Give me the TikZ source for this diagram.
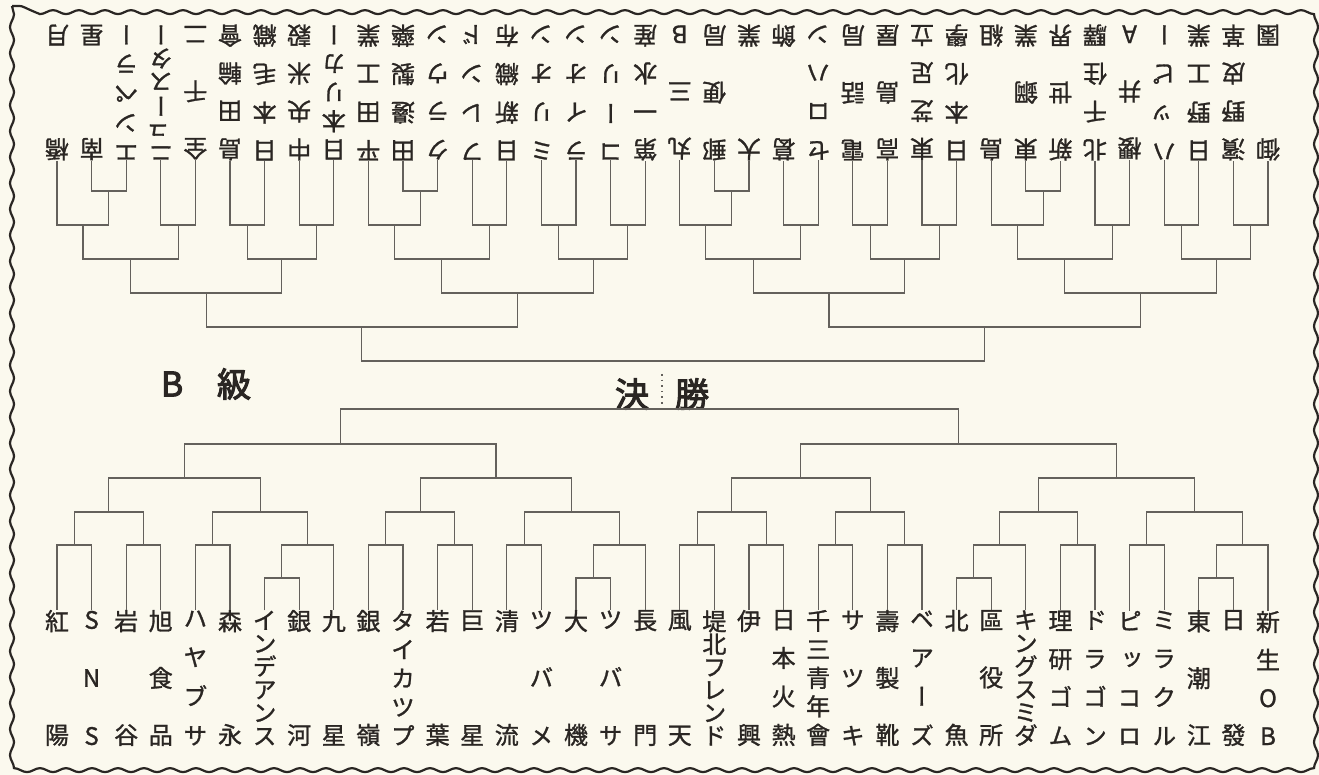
\documentclass[tikz,border=0pt]{standalone}
\usepackage{fontspec}
\usetikzlibrary{calc,decorations.pathmorphing}
\newfontfamily\jp{Noto Sans CJK JP}[RawFeature=+vert,FakeBold=1.2]
\newfontfamily\jpbold{Noto Sans CJK JP}[FakeBold=3]
\definecolor{PaperCream}{RGB}{251,249,238}
\definecolor{PrintInk}{RGB}{42,38,35}
\definecolor{RuleGray}{RGB}{100,97,92}
\newcommand\vs{\par\vfill}
\newcommand\teamcol[1]{\parbox[c][67pt][s]{16pt}{\centering\lineskiplimit=-100pt\baselineskip=6pt #1\par}}
% one match: name, two entrants, height of its bar
\newcommand\bout[4]{%
  \path let \p1=(#2), \p2=(#3), \p3=(0,#4) in coordinate (#1) at ({(\x1+\x2)/2},\y3);
  \draw[bracket] (#2) |- (#1) -| (#3);}
\tikzset{
  bracket/.style={draw=RuleGray,line width=0.55pt},
  teamname/.style={inner sep=0pt,text=PrintInk,font=\jp\fontsize{12}{6}\selectfont},
  topname/.style={teamname,rotate=180},
  classlabel/.style={inner sep=0pt,text=PrintInk,font=\jpbold\fontsize{17}{17}\selectfont},
  wavyframe/.style={draw=PrintInk,line width=1.1pt,decorate,
    decoration={snake,amplitude=1pt,segment length=13pt}}
}
\begin{document}
\begin{tikzpicture}[x=0.5pt,y=-0.5pt]
  \fill[PaperCream] (0,0) rectangle (1319,775);
  \useasboundingbox (0,0) rectangle (1319,775);
  \draw[wavyframe] (12,6) rectangle (1308,763);

  % upper bracket, printed upside down
  \foreach \nm [count=\i] in {{橋\vs 月},{南\vs 星},{エ\vs ン\vs ペ\vs ラ\vs ー},{ニ\vs ュ\vs ー\vs ス\vs タ\vs ー},
    {全\vs 千\vs 二},{島\vs 田\vs 輪\vs 會},{日\vs 本\vs 毛\vs 織},{中\vs 央\vs 米\vs 穀},{日\vs 本\vs リ\vs カ\vs ー},
    {平\vs 田\vs 工\vs 業},{田\vs 邊\vs 製\vs 藥},{ク\vs ラ\vs ウ\vs ン},{フ\vs レ\vs ン\vs ド},{日\vs 新\vs 織\vs 布},
    {ミ\vs リ\vs オ\vs ン},{ラ\vs イ\vs オ\vs ン},{コ\vs ー\vs リ\vs ン},{第\vs 一\vs 水\vs 産},{丸\vs 三\vs B},
    {郵\vs 便\vs 局},{大\vs 業},{葛\vs 飾},{セ\vs ロ\vs ハ\vs ン},{電\vs 話\vs 局},{高\vs 島\vs 屋},
    {東\vs 芝\vs 足\vs 立},{日\vs 本\vs 化\vs 學},{島\vs 組},{東\vs 鋼\vs 業},{新\vs 世\vs 界},{北\vs 千\vs 住\vs 驛},
    {櫻\vs 井\vs A},{ハ\vs ッ\vs ピ\vs ー},{日\vs 野\vs 工\vs 業},{濱\vs 野\vs 皮\vs 革},{御\vs 園}}{
    \node[topname] (tn\i) at ({57+34.6*(\i-1)},92.5) {\teamcol{\nm}};
    \coordinate (t\i) at (tn\i.north);
  }
  \bout{tp1}{t2}{t3}{191}
  \bout{tp2}{t11}{t12}{191}
  \bout{tp3}{t20}{t21}{191}
  \bout{tp4}{t29}{t30}{191}
  \bout{ta1}{t1}{tp1}{225}
  \bout{ta2}{t4}{t5}{225}
  \bout{ta3}{t6}{t7}{225}
  \bout{ta4}{t8}{t9}{225}
  \bout{ta5}{t10}{tp2}{225}
  \bout{ta6}{t13}{t14}{225}
  \bout{ta7}{t15}{t16}{225}
  \bout{ta8}{t17}{t18}{225}
  \bout{ta9}{t19}{tp3}{225}
  \bout{ta10}{t22}{t23}{225}
  \bout{ta11}{t24}{t25}{225}
  \bout{ta12}{t26}{t27}{225}
  \bout{ta13}{t28}{tp4}{225}
  \bout{ta14}{t31}{t32}{225}
  \bout{ta15}{t33}{t34}{225}
  \bout{ta16}{t35}{t36}{225}
  \foreach \k in {1,...,8}{
    \pgfmathtruncatemacro\l{2*\k-1}\pgfmathtruncatemacro\r{2*\k}
    \bout{tb\k}{ta\l}{ta\r}{259}
  }
  \foreach \k in {1,...,4}{
    \pgfmathtruncatemacro\l{2*\k-1}\pgfmathtruncatemacro\r{2*\k}
    \bout{tc\k}{tb\l}{tb\r}{293}
  }
  \bout{td1}{tc1}{tc2}{327}
  \bout{td2}{tc3}{tc4}{327}
  \bout{tf}{td1}{td2}{361}

  % headings
  \node[classlabel] (bmark) at (172,384) {B};
  \node[classlabel] (kyu) at (234,384) {級};
  \node[classlabel] (ketsu) at (632,394) {決};
  \node[classlabel] (sho) at (692,394) {勝};
  \draw[RuleGray,dotted,line width=0.8pt] (662,374) -- (662,405);

  % lower bracket
  \foreach \nm [count=\i] in {{紅\vs 陽},{S\vs N\vs S},{岩\vs 谷},{旭\vs 食\vs 品},{ハ\vs ヤ\vs ブ\vs サ},{森\vs 永},
    {イ\vs ン\vs デ\vs ア\vs ン\vs ス},{銀\vs 河},{九\vs 星},{銀\vs 嶺},{タ\vs イ\vs カ\vs ツ\vs プ},{若\vs 葉},
    {巨\vs 星},{清\vs 流},{ツ\vs バ\vs メ},{大\vs 機},{ツ\vs バ\vs サ},{長\vs 門},{風\vs 天},
    {堤\vs 北\vs フ\vs レ\vs ン\vs ド},{伊\vs 興},{日\vs 本\vs 火\vs 熱},{千\vs 三\vs 青\vs 年\vs 會},{サ\vs ツ\vs キ},
    {壽\vs 製\vs 靴},{ベ\vs ア\vs ー\vs ズ},{北\vs 魚},{區\vs 役\vs 所},{キ\vs ン\vs グ\vs ス\vs ミ\vs ダ},
    {理\vs 研\vs ゴ\vs ム},{ド\vs ラ\vs ゴ\vs ン},{ピ\vs ッ\vs コ\vs ロ},{ミ\vs ラ\vs ク\vs ル},{東\vs 潮\vs 江},
    {日\vs 發},{新\vs 生\vs O\vs B}}{
    \node[teamname] (bn\i) at ({57+34.6*(\i-1)},678) {\teamcol{\nm}};
    \coordinate (b\i) at (bn\i.north);
  }
  \bout{bp1}{b7}{b8}{578}
  \bout{bp2}{b16}{b17}{578}
  \bout{bp3}{b27}{b28}{578}
  \bout{bp4}{b34}{b35}{578}
  \bout{ba1}{b1}{b2}{545}
  \bout{ba2}{b3}{b4}{545}
  \bout{ba3}{b5}{b6}{545}
  \bout{ba4}{bp1}{b9}{545}
  \bout{ba5}{b10}{b11}{545}
  \bout{ba6}{b12}{b13}{545}
  \bout{ba7}{b14}{b15}{545}
  \bout{ba8}{bp2}{b18}{545}
  \bout{ba9}{b19}{b20}{545}
  \bout{ba10}{b21}{b22}{545}
  \bout{ba11}{b23}{b24}{545}
  \bout{ba12}{b25}{b26}{545}
  \bout{ba13}{bp3}{b29}{545}
  \bout{ba14}{b30}{b31}{545}
  \bout{ba15}{b32}{b33}{545}
  \bout{ba16}{bp4}{b36}{545}
  \foreach \k in {1,...,8}{
    \pgfmathtruncatemacro\l{2*\k-1}\pgfmathtruncatemacro\r{2*\k}
    \bout{bb\k}{ba\l}{ba\r}{512}
  }
  \foreach \k in {1,...,4}{
    \pgfmathtruncatemacro\l{2*\k-1}\pgfmathtruncatemacro\r{2*\k}
    \bout{bc\k}{bb\l}{bb\r}{478}
  }
  \bout{bd1}{bc1}{bc2}{444}
  \bout{bd2}{bc3}{bc4}{444}
  \bout{bf}{bd1}{bd2}{409}
\end{tikzpicture}
\end{document}
